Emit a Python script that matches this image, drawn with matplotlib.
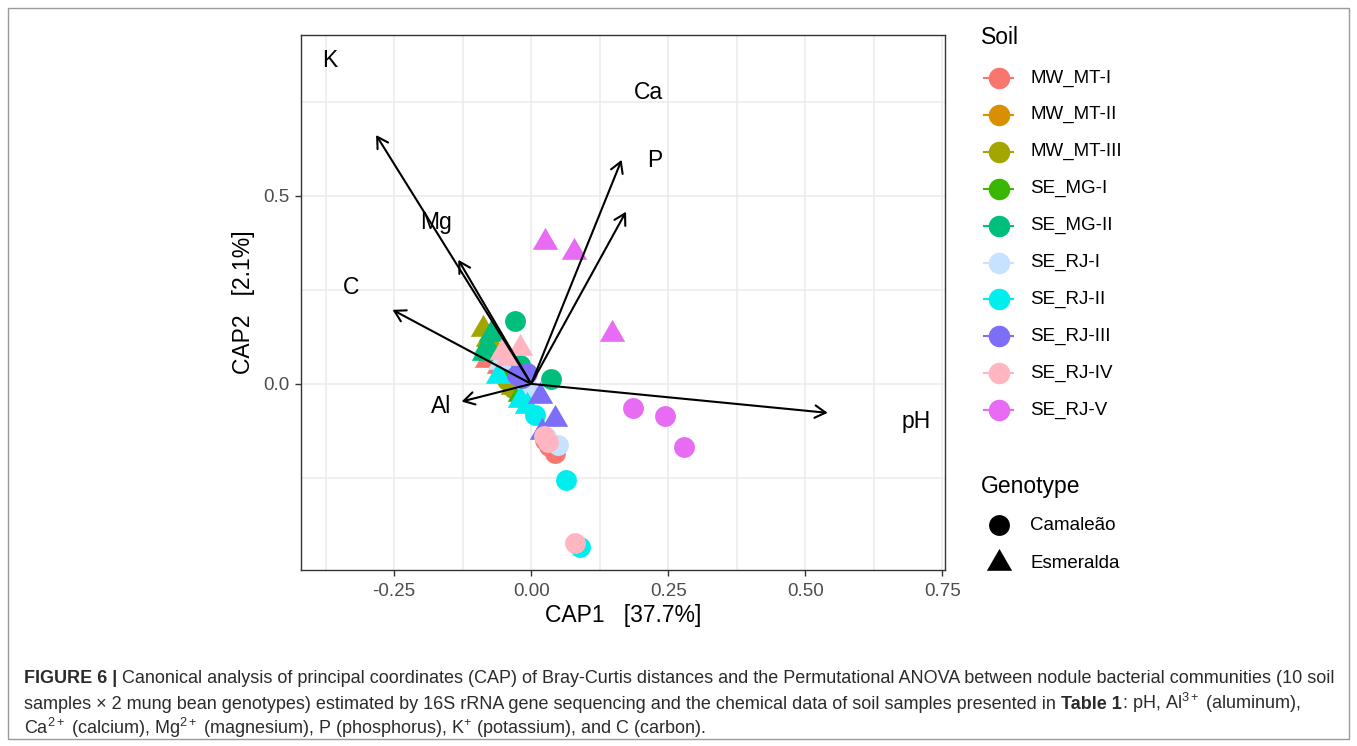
import matplotlib
matplotlib.use("Agg")
import matplotlib.pyplot as plt
from matplotlib import font_manager
from matplotlib.lines import Line2D
from matplotlib.patches import Rectangle

# soil origin of the nodule samples
soils = ["MW_MT-I", "MW_MT-II", "MW_MT-III", "SE_MG-I", "SE_MG-II",
         "SE_RJ-I", "SE_RJ-II", "SE_RJ-III", "SE_RJ-IV", "SE_RJ-V"]
soil_colors = ["#F8766D", "#D89000", "#A3A500", "#39B600", "#00BF7D",
               "#C6E2FF", "#00EEEE", "#7D6EF8", "#FFB6C1", "#E76BF3"]
genotypes = ["Camaleão", "Esmeralda"]

# CAP scores, one list per soil: Camaleão (circles)
cam_x = [[0.025, 0.032, 0.043], [-0.033, -0.024, -0.013], [-0.044, -0.022, -0.033],
         [-0.048, -0.032, -0.041], [-0.021, 0.036, -0.030], [-0.012, 0.027, 0.049],
         [0.007, 0.063, 0.089], [-0.017, -0.026, -0.008], [0.023, 0.030, 0.080],
         [0.186, 0.244, 0.279]]
cam_y = [[-0.149, -0.165, -0.184], [-0.003, 0.016, 0.000], [0.011, 0.005, -0.011],
         [0.032, 0.043, 0.053], [0.051, 0.013, 0.168], [0.005, -0.141, -0.162],
         [-0.082, -0.255, -0.434], [0.016, 0.024, 0.029], [-0.138, -0.154, -0.423],
         [-0.064, -0.085, -0.168]]
# Esmeralda (triangles)
esm_x = [[-0.081, -0.068, -0.059], [-0.066, -0.048, -0.035], [-0.079, -0.088, -0.033],
         [-0.021, -0.008, -0.013], [-0.086, -0.080, -0.073], [-0.057, -0.002, -0.004],
         [-0.060, -0.021, -0.008], [0.016, 0.043, 0.020], [-0.043, -0.053, -0.021],
         [0.025, 0.078, 0.147]]
esm_y = [[0.064, 0.074, 0.048], [0.090, 0.059, 0.037], [0.120, 0.146, -0.008],
         [-0.027, -0.021, -0.013], [0.082, 0.104, 0.133], [0.059, -0.016, -0.010],
         [0.021, -0.043, -0.059], [-0.032, -0.093, -0.128], [0.069, 0.085, 0.096],
         [0.378, 0.351, 0.132]]

# soil chemistry vectors (biplot arrows)
env_names = ["pH", "Al", "Ca", "Mg", "P", "K", "C"]
env_x = [0.541, -0.127, 0.165, -0.133, 0.173, -0.283, -0.253]
env_y = [-0.077, -0.047, 0.596, 0.330, 0.458, 0.662, 0.197]
label_mult = 1.3

x_label = "CAP1   [37.7%]"
y_label = "CAP2   [2.1%]"

caption_runs = [
    [("FIGURE 6 |", "bold"),
     (" Canonical analysis of principal coordinates (CAP) of Bray-Curtis distances and the "
      "Permutational ANOVA between nodule bacterial communities (10 soil", "normal")],
    [("samples \u00d7 2 mung bean genotypes) estimated by 16S rRNA gene sequencing and the "
      "chemical data of soil samples presented in ", "normal"),
     ("Table 1", "bold"),
     (": pH, Al$^{3+}$ (aluminum),", "normal")],
    [("Ca$^{2+}$ (calcium), Mg$^{2+}$ (magnesium), P (phosphorus), K$^{+}$ (potassium), "
      "and C (carbon).", "normal")],
]

installed = {f.name for f in font_manager.fontManager.ttflist}
cap_font = "Liberation Sans Narrow" if "Liberation Sans Narrow" in installed else "Liberation Sans"

plt.rcParams["font.family"] = "Liberation Sans"
plt.rcParams["mathtext.fontset"] = "custom"
plt.rcParams["mathtext.rm"] = cap_font
plt.rcParams["mathtext.bf"] = cap_font + ":bold"
plt.rcParams["mathtext.it"] = cap_font + ":italic"

W, H = 1357, 746
fig = plt.figure(figsize=(W / 100, H / 100), dpi=100)

# overlay in pixel coordinates for legend, caption and frame
ov = fig.add_axes([0, 0, 1, 1], zorder=0)
ov.set_xlim(0, W)
ov.set_ylim(H, 0)
ov.axis("off")

left, right, top, bottom = 301, 945, 35, 570
ax = fig.add_axes([left / W, 1 - bottom / H, (right - left) / W, (bottom - top) / H], zorder=1)

tri = [(0, 0.577), (-0.5, -0.2887), (0.5, -0.2887)]
for i, soil in enumerate(soils):
    ax.scatter(cam_x[i], cam_y[i], s=225, marker="o", color=soil_colors[i], linewidths=0, zorder=3)
    ax.scatter(esm_x[i], esm_y[i], s=445, marker=tri, color=soil_colors[i], linewidths=0, zorder=3)

for name, ex, ey in zip(env_names, env_x, env_y):
    ax.annotate("", xy=(ex, ey), xytext=(0, 0),
                arrowprops=dict(arrowstyle="->,head_length=0.55,head_width=0.32",
                                lw=1.5, color="black", shrinkA=0, shrinkB=0,
                                mutation_scale=14),
                zorder=4)
    ax.text(ex * label_mult, ey * label_mult, name, fontsize=16.5, ha="center",
            va="center", color="black", zorder=5)

ax.set_xlim(-0.420, 0.755)
ax.set_ylim(-0.495, 0.928)
ax.set_xticks([-0.25, 0, 0.25, 0.5, 0.75])
ax.set_xticklabels(["-0.25", "0.00", "0.25", "0.50", "0.75"])
ax.set_xticks([-0.375, -0.125, 0.125, 0.375, 0.625], minor=True)
ax.set_yticks([0, 0.5])
ax.set_yticklabels(["0.0", "0.5"])
ax.set_yticks([-0.25, 0.25, 0.75], minor=True)
ax.grid(which="both", color="#EBEBEB", lw=1.1, zorder=0)
ax.set_axisbelow(True)
ax.tick_params(which="major", length=4, width=1, color="#333333",
               labelsize=13.5, labelcolor="#4D4D4D")
ax.tick_params(axis="x", pad=5)
ax.tick_params(axis="y", pad=4)
ax.tick_params(which="minor", length=0)
for sp in ax.spines.values():
    sp.set_color("#333333")
    sp.set_linewidth(1)
ax.set_xlabel(x_label, fontsize=16.5, labelpad=3)
ax.set_ylabel(y_label, fontsize=16.5, labelpad=6)

# legends
ov.text(981, 38, "Soil", fontsize=16.5, va="center", ha="left")
for i, soil in enumerate(soils):
    yy = 78 + i * 36.9
    ov.add_line(Line2D([984, 1013], [yy, yy], color=soil_colors[i], lw=1.5))
    ov.plot([998.5], [yy], marker="o", ms=15.5, color=soil_colors[i], mew=0)
    ov.text(1030, yy, soil, fontsize=13.5, va="center", ha="left")

ov.text(981, 487, "Genotype", fontsize=16.5, va="center", ha="left")
ov.plot([998.5], [525], marker="o", ms=15, color="black", mew=0)
ov.text(1030, 525, genotypes[0], fontsize=13.5, va="center", ha="left")
ov.plot([998.5], [563], marker=tri, ms=21, color="black", mew=0)
ov.text(1030, 563, genotypes[1], fontsize=13.5, va="center", ha="left")

# outer frame
ov.add_patch(Rectangle((8, 8), 1341, 731, fill=False, edgecolor="#9A9A9A", lw=1))

# caption
renderer = fig.canvas.get_renderer()


def run_width(s, weight, size):
    t = ov.text(0, 0, s, fontsize=size, fontweight=weight, family=cap_font)
    w = t.get_window_extent(renderer).width
    t.remove()
    return w


def line_width(runs, size):
    sp = run_width("a a", "normal", size) - run_width("aa", "normal", size)
    total = 0
    for s, weight in runs:
        lead = sp if s.startswith(" ") else 0
        total += lead + run_width(s.strip(), weight, size)
    return total


cap_size = 11.0
cap_size *= 1305 / line_width(caption_runs[0], cap_size)
space_w = run_width("a a", "normal", cap_size) - run_width("aa", "normal", cap_size)

for line, yb in zip(caption_runs, [683, 709, 734]):
    x = 24
    for s, weight in line:
        if s.startswith(" "):
            x += space_w
        s2 = s.strip()
        t = ov.text(x, yb, s2, fontsize=cap_size, fontweight=weight, family=cap_font,
                    va="baseline", ha="left", color="#2B2B2B")
        x += t.get_window_extent(renderer).width
        if s.endswith(" "):
            x += space_w

fig.savefig("out.png", dpi=100)
